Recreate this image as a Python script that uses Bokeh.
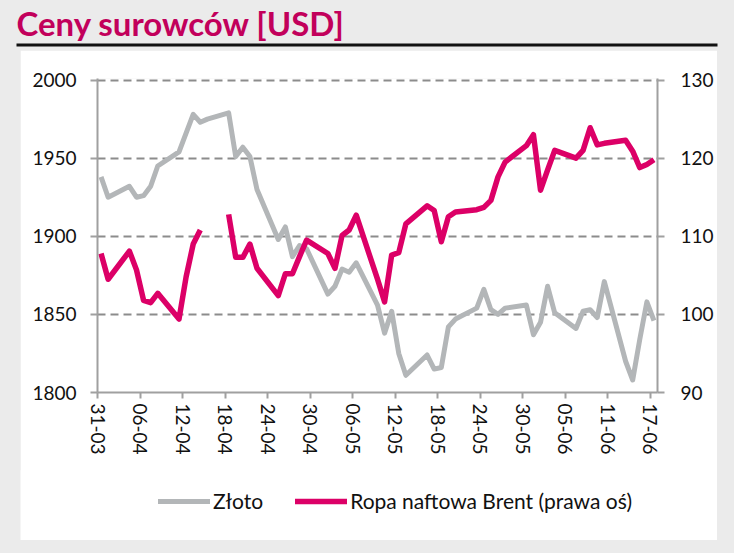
import pandas as pd
from bokeh.plotting import figure
from bokeh.layouts import column
from bokeh.models import (Range1d, LinearAxis, FixedTicker, BoxAnnotation, Label,
                          Legend, LegendItem, ColumnDataSource)
from bokeh.embed import file_html
from bokeh.resources import INLINE

# ---------------- data ----------------
dates = ["2022-03-31", "2022-04-01", "2022-04-04", "2022-04-05", "2022-04-06", "2022-04-07",
         "2022-04-08", "2022-04-11", "2022-04-12", "2022-04-13", "2022-04-14", "2022-04-15",
         "2022-04-18", "2022-04-19", "2022-04-20", "2022-04-21", "2022-04-22", "2022-04-25",
         "2022-04-26", "2022-04-27", "2022-04-28", "2022-04-29", "2022-05-02", "2022-05-03",
         "2022-05-04", "2022-05-05", "2022-05-06", "2022-05-09", "2022-05-10", "2022-05-11",
         "2022-05-12", "2022-05-13", "2022-05-16", "2022-05-17", "2022-05-18", "2022-05-19",
         "2022-05-20", "2022-05-23", "2022-05-24", "2022-05-25", "2022-05-26", "2022-05-27",
         "2022-05-30", "2022-05-31", "2022-06-01", "2022-06-02", "2022-06-03", "2022-06-06",
         "2022-06-07", "2022-06-08", "2022-06-09", "2022-06-10", "2022-06-13", "2022-06-14",
         "2022-06-15", "2022-06-16", "2022-06-17"]

gold = [1938, 1925, 1932, 1925, 1926, 1932,
        1945, 1954, 1966, 1978, 1973, 1975,
        1979, 1951, 1957, 1951, 1930, 1898,
        1906, 1887, 1894, 1892, 1863, 1868,
        1879, 1877, 1883, 1856, 1838, 1852,
        1825, 1811, 1824, 1815, 1816, 1842,
        1847, 1854, 1866, 1853, 1850, 1854,
        1856, 1837, 1845, 1868, 1851, 1841,
        1852, 1853, 1848, 1871, 1820, 1808,
        1834, 1858, 1846]

brent = [107.8, 104.5, 108.1, 105.7, 101.8, 101.5,
         102.7, 99.4, 104.8, 109.0, 110.8, float("nan"),
         112.8, 107.3, 107.3, 109.0, 105.9, 102.4,
         105.2, 105.2, 107.4, 109.5, 107.8, 105.9,
         110.1, 110.8, 112.7, 104.5, 101.6, 107.6,
         107.9, 111.6, 113.9, 113.3, 109.3, 112.5,
         113.1, 113.4, 113.7, 114.6, 117.6, 119.5,
         121.6, 123.0, 115.9, 118.5, 121.0, 120.0,
         121.0, 123.9, 121.7, 121.9, 122.3, 120.9,
         118.8, 119.2, 119.8]

tick_dates = ["2022-03-31", "2022-04-06", "2022-04-12", "2022-04-18", "2022-04-24",
              "2022-04-30", "2022-05-06", "2022-05-12", "2022-05-18", "2022-05-24",
              "2022-05-30", "2022-06-05", "2022-06-11", "2022-06-17"]
tick_labels = ["31-03", "06-04", "12-04", "18-04", "24-04", "30-04", "06-05",
               "12-05", "18-05", "24-05", "30-05", "05-06", "11-06", "17-06"]

left_ticks = [1800, 1850, 1900, 1950, 2000]
right_ticks = [90, 100, 110, 120, 130]

title_text = "Ceny surowców [USD]"
gold_name = "Złoto"
brent_name = "Ropa naftowa Brent (prawa oś)"

# ---------------- derived ----------------
start = pd.Timestamp(dates[0])
xs = [(pd.Timestamp(d) - start).days + 0.5 for d in dates]
tick_x = [(pd.Timestamp(d) - start).days for d in tick_dates]
src = ColumnDataSource(dict(x=xs, gold=gold, brent=brent))

FONT = "Lato"
BG = "#ebebeb"
GRAY_LINE = "#b3b6b8"
MAGENTA = "#dc0067"
AXIS_C = "#a0a0a0"
GRID_C = "#8c8c8c"
TXT = "#111111"
GOLD_W = 5
BRENT_W = 5.5


def strip(width, height, fill, margin=(0, 0, 0, 0)):
    f = figure(width=width, height=height, x_range=Range1d(0, width), y_range=Range1d(height, 0),
               min_border=0, min_border_left=0, min_border_right=0, min_border_top=0,
               min_border_bottom=0, x_axis_type=None, y_axis_type=None,
               border_fill_color=fill, background_fill_color=fill, outline_line_color=None,
               output_backend="svg", toolbar_location=None, frame_align=False, margin=margin)
    f.xgrid.visible = False
    f.ygrid.visible = False
    return f


# ---------------- title strip ----------------
t = strip(734, 50, BG)
t.add_layout(Label(x=16, y=22, text=title_text, text_font=FONT, text_font_style="bold",
                   text_font_size="33px", text_color="#c2005b", text_baseline="alphabetic"))
t.add_layout(BoxAnnotation(left=16, right=717, top=43, bottom=46,
                           fill_color="#111111", fill_alpha=1, line_color=None))

# ---------------- main chart ----------------
p = figure(width=697, height=421, x_range=Range1d(0, 79), y_range=Range1d(1800, 2001),
           min_border_left=77, min_border_right=60, min_border_top=28, min_border_bottom=79,
           border_fill_color="white", background_fill_color="white",
           outline_line_color=None, output_backend="svg", toolbar_location=None,
           margin=(0, 17, 0, 20), frame_align=False)
p.extra_y_ranges = {"brent": Range1d(90, 130.2)}

p.line("x", "gold", source=src, line_width=GOLD_W, line_color=GRAY_LINE, line_join="round")
p.line("x", "brent", source=src, line_width=BRENT_W, line_color=MAGENTA, line_join="round",
       y_range_name="brent")

p.xaxis.ticker = FixedTicker(ticks=tick_x)
p.xaxis.major_label_overrides = {tx: lb for tx, lb in zip(tick_x, tick_labels)}
p.xaxis.major_label_orientation = "vertical"
p.yaxis.ticker = FixedTicker(ticks=left_ticks)
ra = LinearAxis(y_range_name="brent", ticker=FixedTicker(ticks=right_ticks))
p.add_layout(ra, "right")

for ax in [p.xaxis[0], p.yaxis[0], ra]:
    ax.axis_line_color = AXIS_C
    ax.axis_line_width = 2
    ax.major_tick_line_color = AXIS_C
    ax.major_tick_line_width = 2
    ax.major_tick_in = 0
    ax.major_tick_out = 7
    ax.minor_tick_line_color = None
    ax.major_label_text_font = FONT
    ax.major_label_text_font_size = "19px"
    ax.major_label_text_color = TXT
p.xaxis.major_tick_out = 6
p.xaxis.major_label_standoff = 5
p.yaxis.major_label_standoff = 14
ra.major_label_standoff = 16

p.xgrid.visible = False
p.ygrid.ticker = FixedTicker(ticks=left_ticks[1:])
p.ygrid.grid_line_color = GRID_C
p.ygrid.grid_line_width = 2
p.ygrid.grid_line_dash = "8 5"

# ---------------- legend strip ----------------
# proxy renderers: same series, far outside this strip's ranges, only give the legend its swatches
lg = strip(697, 70, "white", margin=(-1, 17, 13, 20))
lg_g = lg.line(x=xs, y=gold, line_width=GOLD_W, line_color=GRAY_LINE, line_cap="round")
lg_b = lg.line(x=xs, y=brent, line_width=BRENT_W, line_color=MAGENTA, line_cap="round")
legend = Legend(items=[LegendItem(label=gold_name, renderers=[lg_g]),
                       LegendItem(label=brent_name, renderers=[lg_b])],
                orientation="horizontal", location=(138, 27),
                glyph_width=52, glyph_height=20, label_standoff=3, spacing=32,
                padding=0, margin=0, border_line_color=None, background_fill_alpha=0,
                label_text_font=FONT, label_text_font_size="21px", label_text_color=TXT)
lg.add_layout(legend, "center")

layout = column(t, p, lg, spacing=0, styles={"background-color": BG})
open("out.html", "w").write(file_html(layout, INLINE))
